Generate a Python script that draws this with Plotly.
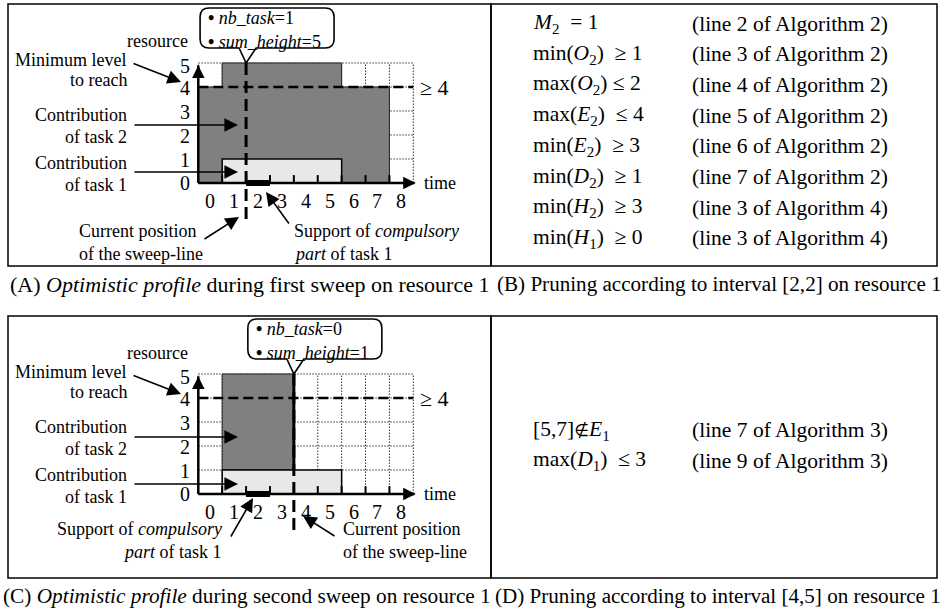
import plotly.graph_objects as go

# ---------------- data ----------------
time_tick_labels = ["0", "1", "2", "3", "4", "5", "6", "7", "8"]
resource_tick_labels = ["0", "1", "2", "3", "4", "5"]
grid_time = list(range(0, 10))      # dotted grid columns (time units)
grid_res = list(range(0, 6))        # dotted grid rows (resource units)
min_level = 4

task1_interval = [1, 6]
task1_height = 1
task1_compulsory = [2, 3]

profileA_breaks = [0, 1, 6, 8]      # optimistic profile, first sweep
profileA_levels = [4, 5, 4]

task2C_interval = [1, 4]            # contribution of task 2, second sweep
task2C_levels = [1, 5]

sweepA_pos = 2
sweepC_pos = 4
bubbleA_values = [1, 5]             # nb_task, sum_height
bubbleC_values = [0, 1]

prune_B_left = [
    "<i>M</i><sub>2</sub>\u00a0 = 1",
    "min(<i>O</i><sub>2</sub>)\u00a0 \u2265 1",
    "max(<i>O</i><sub>2</sub>) \u2264 2",
    "max(<i>E</i><sub>2</sub>)\u00a0 \u2264 4",
    "min(<i>E</i><sub>2</sub>)\u00a0 \u2265 3",
    "min(<i>D</i><sub>2</sub>)\u00a0 \u2265 1",
    "min(<i>H</i><sub>2</sub>)\u00a0 \u2265 3",
    "min(<i>H</i><sub>1</sub>)\u00a0 \u2265 0",
]
prune_B_right = [
    "(line 2 of Algorithm 2)", "(line 3 of Algorithm 2)", "(line 4 of Algorithm 2)",
    "(line 5 of Algorithm 2)", "(line 6 of Algorithm 2)", "(line 7 of Algorithm 2)",
    "(line 3 of Algorithm 4)", "(line 3 of Algorithm 4)",
]
prune_D_left = ["[5,7]<span style=\"font-family:DejaVu Sans;font-size:17px\">\u2209</span><i>E</i><sub>1</sub>",
                "max(<i>D</i><sub>1</sub>)\u00a0 \u2264 3"]
prune_D_right = ["(line 7 of Algorithm 3)", "(line 9 of Algorithm 3)"]

captions = [
    "(A) <i>Optimistic profile</i> during first sweep on resource 1",
    "(B) Pruning according to interval [2,2] on resource 1",
    "(C) <i>Optimistic profile</i> during second sweep on resource 1",
    "(D) Pruning according to interval [4,5] on resource 1",
]

# ---------------- geometry (pixels) ----------------
W, H = 947, 613
X0, DX = 198.3, 23.89
A_Y0, C_Y0, DY = 183.0, 494.0, 24.0
FONT = "Liberation Serif, DejaVu Serif, serif"
DARK = "#808080"
LIGHT = "#e8e8e8"


def dx(px):
    return (px - X0) / DX


def pxp(px):
    return px / W


def pyp(py):
    return 1 - py / H


fig = go.Figure()
annotations = []
shapes = []


def txt(x, y, s, size=18, xanchor="left"):
    annotations.append(dict(x=pxp(x), y=pyp(y), xref="paper", yref="paper", text=s,
                            showarrow=False, xanchor=xanchor, yanchor="middle",
                            font=dict(family=FONT, size=size, color="black")))


def panel(yname, Y0, profile_polys, sweep, bubble_vals, solid_sweep_top):
    def dyp(py):
        return (Y0 - py) / DY
    yref = "y" if yname == "y" else "y2"
    tmax, rmax = grid_time[-1], grid_res[-1]
    # dotted grid
    gx, gy = [], []
    for t in grid_time:
        gx += [t, t, None]
        gy += [0, rmax, None]
    for r in grid_res:
        gx += [0, tmax, None]
        gy += [r, r, None]
    fig.add_trace(go.Scatter(x=gx, y=gy, mode="lines", yaxis=yname,
                             line=dict(color="#333", width=1, dash="1.5px,1.5px"), hoverinfo="skip"))
    # dark contribution(s)
    for (px_, py_) in profile_polys:
        fig.add_trace(go.Scatter(x=px_, y=py_, mode="lines", fill="toself", fillcolor=DARK,
                                 yaxis=yname, line=dict(color="#222", width=1), hoverinfo="skip"))
    # task 1 contribution
    s, e = task1_interval
    fig.add_trace(go.Scatter(x=[s, s, e, e, s], y=[0, task1_height, task1_height, 0, 0],
                             mode="lines", fill="toself", fillcolor=LIGHT, yaxis=yname,
                             line=dict(color="black", width=1.5), hoverinfo="skip"))
    # minimum level
    fig.add_trace(go.Scatter(x=[0, tmax], y=[min_level, min_level], mode="lines", yaxis=yname,
                             line=dict(color="black", width=2.5, dash="10px,5px"), hoverinfo="skip"))
    # ticks on time axis
    tx, ty = [], []
    for t in grid_time[1:-1]:
        tx += [t, t, None]
        ty += [0, 0.33, None]
    fig.add_trace(go.Scatter(x=tx, y=ty, mode="lines", yaxis=yname,
                             line=dict(color="black", width=2), hoverinfo="skip"))
    # axis lines
    fig.add_trace(go.Scatter(x=[0, tmax + 0.05, None, 0, 0], y=[0, 0, None, 0, rmax - 0.1],
                             mode="lines", yaxis=yname,
                             line=dict(color="black", width=2.5), hoverinfo="skip"))
    # compulsory part of task 1
    fig.add_trace(go.Scatter(x=task1_compulsory, y=[0, 0], mode="lines", yaxis=yname,
                             line=dict(color="black", width=6), hoverinfo="skip"))
    # sweep line
    bottom = dyp(Y0 + 41)
    if solid_sweep_top:
        fig.add_trace(go.Scatter(x=[sweep, sweep], y=[task1_height, rmax], mode="lines",
                                 yaxis=yname, line=dict(color="black", width=3), hoverinfo="skip"))
    fig.add_trace(go.Scatter(x=[sweep, sweep], y=[rmax, bottom], mode="lines", yaxis=yname,
                             line=dict(color="black", width=3, dash="12px,6px"), hoverinfo="skip"))
    # arrowheads of axes
    annotations.append(dict(x=tmax + 0.1, y=0, ax=tmax - 0.4, ay=0, xref="x", yref=yref,
                            axref="x", ayref=yref, text="", showarrow=True, arrowhead=2,
                            arrowsize=1.0, arrowwidth=2.5, arrowcolor="black"))
    annotations.append(dict(x=0, y=rmax - 0.1, ax=0, ay=rmax - 0.6, xref="x", yref=yref,
                            axref="x", ayref=yref, text="", showarrow=True, arrowhead=2,
                            arrowsize=1.0, arrowwidth=2.5, arrowcolor="black"))
    # tick labels
    for i, lab in enumerate(time_tick_labels):
        annotations.append(dict(x=i + 0.5, y=dyp(Y0 + 18), xref="x", yref=yref, text=lab,
                                showarrow=False, font=dict(family=FONT, size=20, color="black")))
    for i, lab in enumerate(resource_tick_labels):
        yy = grid_res[i] - (0.12 if i == len(resource_tick_labels) - 1 else 0.05 * (i > 0))
        annotations.append(dict(x=dx(192), y=yy, xref="x", yref=yref, text=lab, xanchor="right",
                                showarrow=False, font=dict(family=FONT, size=20, color="black")))
    # "time" and ">= 4"
    annotations.append(dict(x=dx(422), y=0, xref="x", yref=yref, text="time", xanchor="left",
                            showarrow=False, font=dict(family=FONT, size=18, color="black")))
    annotations.append(dict(x=dx(418), y=min_level, xref="x", yref=yref, text="\u2265 4",
                            xanchor="left", showarrow=False,
                            font=dict(family=FONT, size=22, color="black")))
    # bubble
    tpx, tpy = X0 + sweep * DX, Y0 - rmax * DY
    L, R, T, B, r = tpx - 46, tpx + 88, tpy - 55, tpy - 15, 9
    pts = [("M", L + r, T), ("L", R - r, T), ("Q", R, T, R, T + r), ("L", R, B - r),
           ("Q", R, B, R - r, B), ("L", tpx + 10, B), ("L", tpx, tpy), ("L", tpx - 7, B),
           ("L", L + r, B), ("Q", L, B, L, B - r), ("L", L, T + r), ("Q", L, T, L + r, T)]
    path = ""
    for p in pts:
        coords = p[1:]
        seg = []
        for k in range(0, len(coords), 2):
            seg.append(f"{dx(coords[k]):.4f},{dyp(coords[k + 1]):.4f}")
        path += p[0] + " ".join(seg) + " "
    shapes.append(dict(type="path", path=path + "Z", xref="x", yref=yref,
                       fillcolor="white", line=dict(color="black", width=1.6), layer="above"))
    bullet = "<b>\u2022</b>"
    annotations.append(dict(x=dx(tpx - 40), y=dyp(tpy - 45), xref="x", yref=yref,
                            text=f"{bullet} <i>nb_task</i>={bubble_vals[0]}", xanchor="left",
                            showarrow=False, font=dict(family=FONT, size=18, color="black")))
    annotations.append(dict(x=dx(tpx - 40), y=dyp(tpy - 21), xref="x", yref=yref,
                            text=f"{bullet} <i>sum_height</i>={bubble_vals[1]}", xanchor="left",
                            showarrow=False, font=dict(family=FONT, size=18, color="black")))


def poly_from_profile(breaks, levels):
    xs, ys = [breaks[0]], [0]
    for i, lv in enumerate(levels):
        xs += [breaks[i], breaks[i + 1]]
        ys += [lv, lv]
    xs += [breaks[-1], breaks[0]]
    ys += [0, 0]
    return xs, ys


polyA = poly_from_profile(profileA_breaks, profileA_levels)
s2, e2 = task2C_interval
b2, t2 = task2C_levels
polyC = ([s2, s2, e2, e2, s2], [b2, t2, t2, b2, b2])

panel("y", A_Y0, [polyA], sweepA_pos, bubbleA_values, False)
panel("y2", C_Y0, [polyC], sweepC_pos, bubbleC_values, True)


# ---- left-side labels and pointers ----
def arrow(yref, Y0, x0, y0, x1, y1, width=1.6, size=1.7):
    annotations.append(dict(x=dx(x1), y=(Y0 - y1) / DY, ax=dx(x0), ay=(Y0 - y0) / DY,
                            xref="x", yref=yref, axref="x", ayref=yref, text="",
                            showarrow=True, arrowhead=2, arrowsize=size, arrowwidth=width,
                            arrowcolor="black"))


for off, yref, Y0 in [(0, "y", A_Y0), (312, "y2", C_Y0)]:
    txt(190, 41 + off, "resource", xanchor="right")
    txt(129, 60 + off, "Minimum level", xanchor="right")
    txt(129, 80 + off, "to reach", xanchor="right")
    txt(129, 115 + off, "Contribution", xanchor="right")
    txt(129, 137 + off, "of task 2", xanchor="right")
    txt(129, 163 + off, "Contribution", xanchor="right")
    txt(129, 185 + off, "of task 1", xanchor="right")
    arrow(yref, Y0, 132, 63 + off, 181, 82 + off)
    arrow(yref, Y0, 133, 125 + off, 238, 125 + off)
    arrow(yref, Y0, 133, 172 + off, 238, 172 + off)

# bottom labels A
txt(77, 231, "Current position")
txt(77, 254, "of the sweep-line")
arrow("y", A_Y0, 203, 240, 239, 217)
txt(292, 231, "Support of <i>compulsory</i>")
txt(292, 254, "<i>part</i> of task 1")
arrow("y", A_Y0, 290, 225, 266, 192)

# bottom labels C
txt(224, 529, "Support of <i>compulsory</i>", xanchor="right")
txt(224, 552, "<i>part</i> of task 1", xanchor="right")
arrow("y2", C_Y0, 230, 538, 253, 498)
txt(341, 529, "Current position")
txt(341, 552, "of the sweep-line")
arrow("y2", C_Y0, 336, 537, 303, 516)

# ---- panel frames ----
for (x0, y0, x1, y1) in [(8, 4, 491, 266), (491, 4, 937, 266), (8, 316, 491, 578), (491, 316, 937, 578)]:
    shapes.append(dict(type="rect", xref="paper", yref="paper", x0=pxp(x0), x1=pxp(x1),
                       y0=pyp(y0), y1=pyp(y1), line=dict(color="black", width=1.5), layer="below"))

# ---- pruning texts ----
for i, (l, r) in enumerate(zip(prune_B_left, prune_B_right)):
    yy = 23.5 + i * 30.7
    txt(531, yy, l, size=21.5)
    txt(690, yy, r, size=21.5)
for i, (l, r) in enumerate(zip(prune_D_left, prune_D_right)):
    yy = 430 + i * 30.7
    txt(531, yy, l, size=21.5)
    txt(690, yy, r, size=21.5)

# ---- captions ----
txt(8, 284, captions[0], size=22)
txt(495, 284, captions[1], size=21.1)
txt(1, 596, captions[2], size=21.3)
txt(493, 596, captions[3], size=21.1)

fig.update_layout(
    width=W, height=H, margin=dict(l=0, r=0, t=0, b=0),
    paper_bgcolor="white", plot_bgcolor="white", showlegend=False,
    xaxis=dict(range=[dx(0), dx(W)], visible=False, fixedrange=True),
    yaxis=dict(range=[(A_Y0 - H) / DY, A_Y0 / DY], visible=False, fixedrange=True),
    yaxis2=dict(range=[(C_Y0 - H) / DY, C_Y0 / DY], visible=False, overlaying="y",
                fixedrange=True),
    annotations=annotations, shapes=shapes,
)

fig.write_html("out.html", config={"displayModeBar": False},
               post_script="document.body.style.margin='0px';document.body.style.overflow='hidden';")
